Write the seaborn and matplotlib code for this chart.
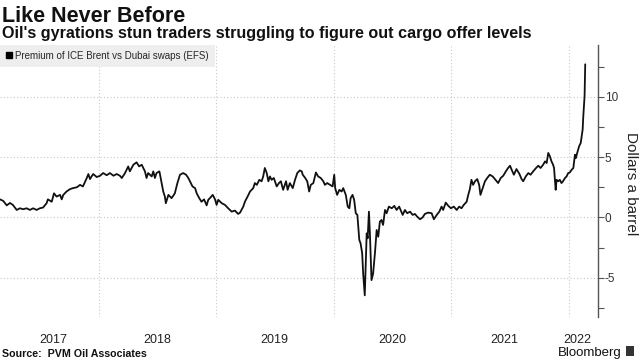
import matplotlib
matplotlib.use("Agg")
import matplotlib.pyplot as plt
import matplotlib.dates as mdates
from matplotlib.lines import Line2D
from matplotlib.patches import Rectangle
from matplotlib.ticker import FixedLocator, FixedFormatter, NullFormatter
import pandas as pd
import seaborn as sns

dates = [
    "2017-02-27", "2017-03-09", "2017-03-20", "2017-03-30", "2017-04-08", "2017-04-20", "2017-04-30",
    "2017-05-10", "2017-05-21", "2017-05-31", "2017-06-10", "2017-06-21", "2017-07-01", "2017-07-11",
    "2017-07-22", "2017-07-26", "2017-08-07", "2017-08-14", "2017-08-22", "2017-09-02", "2017-09-07",
    "2017-09-12", "2017-09-22", "2017-10-03", "2017-10-12", "2017-10-24", "2017-11-03", "2017-11-12",
    "2017-11-24", "2017-11-29", "2017-12-04", "2017-12-09", "2017-12-14", "2017-12-25",
    "2018-01-04", "2018-01-14", "2018-01-25", "2018-02-04", "2018-02-15", "2018-02-25", "2018-03-07",
    "2018-03-13", "2018-03-23", "2018-04-02", "2018-04-07", "2018-04-18", "2018-04-28", "2018-05-06",
    "2018-05-14", "2018-05-19", "2018-05-24", "2018-05-29", "2018-06-03", "2018-06-14", "2018-06-19",
    "2018-06-24", "2018-06-29", "2018-07-08", "2018-07-15", "2018-07-20", "2018-07-25", "2018-07-28",
    "2018-08-05", "2018-08-15", "2018-08-25", "2018-09-02", "2018-09-10", "2018-09-20", "2018-09-29",
    "2018-10-06", "2018-10-11", "2018-10-19", "2018-10-27", "2018-11-01", "2018-11-09", "2018-11-16",
    "2018-11-24", "2018-12-02", "2018-12-07", "2018-12-12", "2018-12-21", "2018-12-28",
    "2019-01-02", "2019-01-07", "2019-01-18", "2019-01-28", "2019-02-07", "2019-02-18", "2019-02-28",
    "2019-03-10", "2019-03-16", "2019-03-26", "2019-03-31", "2019-04-11", "2019-04-16", "2019-04-26",
    "2019-05-01", "2019-05-07", "2019-05-15", "2019-05-22", "2019-05-27", "2019-06-01", "2019-06-07",
    "2019-06-12", "2019-06-17", "2019-06-22", "2019-06-29", "2019-07-08", "2019-07-15", "2019-07-21",
    "2019-07-28", "2019-08-06", "2019-08-11", "2019-08-18", "2019-08-27", "2019-09-03", "2019-09-10",
    "2019-09-18", "2019-09-24", "2019-09-27", "2019-10-04", "2019-10-11", "2019-10-17", "2019-10-22",
    "2019-10-30", "2019-11-07", "2019-11-14", "2019-11-22", "2019-11-30", "2019-12-05", "2019-12-12",
    "2019-12-21", "2019-12-29",
    "2020-01-03", "2020-01-06", "2020-01-12", "2020-01-19", "2020-01-26", "2020-01-31", "2020-02-08",
    "2020-02-14", "2020-02-19", "2020-02-23", "2020-02-29", "2020-03-05", "2020-03-10", "2020-03-15",
    "2020-03-21", "2020-03-25", "2020-03-30", "2020-04-02", "2020-04-07", "2020-04-13", "2020-04-16",
    "2020-04-20", "2020-04-23", "2020-04-28", "2020-05-03", "2020-05-09", "2020-05-14", "2020-05-19",
    "2020-05-24", "2020-05-29", "2020-06-03", "2020-06-09", "2020-06-14", "2020-06-21", "2020-06-30",
    "2020-07-08", "2020-07-15", "2020-07-23", "2020-08-03", "2020-08-10", "2020-08-17", "2020-08-26",
    "2020-09-03", "2020-09-10", "2020-09-17", "2020-09-26", "2020-10-04", "2020-10-11", "2020-10-21",
    "2020-11-01", "2020-11-08", "2020-11-17", "2020-11-25", "2020-12-02", "2020-12-07", "2020-12-15",
    "2020-12-23", "2020-12-31",
    "2021-01-09", "2021-01-18", "2021-01-26", "2021-02-02", "2021-02-09", "2021-02-18", "2021-02-23",
    "2021-02-28", "2021-03-05", "2021-03-10", "2021-03-16", "2021-03-23", "2021-03-29", "2021-04-02",
    "2021-04-09", "2021-04-16", "2021-04-23", "2021-05-01", "2021-05-10", "2021-05-17", "2021-05-27",
    "2021-06-04", "2021-06-12", "2021-06-20", "2021-06-27", "2021-07-03", "2021-07-08", "2021-07-15",
    "2021-07-23", "2021-08-01", "2021-08-08", "2021-08-13", "2021-08-21", "2021-08-29", "2021-09-05",
    "2021-09-13", "2021-09-22", "2021-09-29", "2021-10-06", "2021-10-14", "2021-10-20", "2021-10-25",
    "2021-10-30", "2021-11-04", "2021-11-09", "2021-11-14", "2021-11-17", "2021-11-22", "2021-11-25",
    "2021-11-30", "2021-12-05", "2021-12-10", "2021-12-15", "2021-12-21", "2021-12-26", "2021-12-31",
    "2022-01-05", "2022-01-11", "2022-01-16", "2022-01-21", "2022-01-24", "2022-01-28", "2022-02-03",
    "2022-02-08", "2022-02-11", "2022-02-14", "2022-02-16", "2022-02-18", "2022-02-20", "2022-02-21",
    "2022-02-22",
]

efs_premium = [
    1.5, 1.37, 1.0, 1.2, 1.04, 0.62, 0.76,
    0.68, 0.76, 0.62, 0.76, 0.62, 0.76, 0.82,
    1.18, 1.5, 1.3, 2.0, 1.73, 1.87, 1.5,
    1.87, 2.15, 2.35, 2.43, 2.5, 2.7, 2.57,
    3.27, 3.6, 3.18, 3.4, 3.6, 3.35,
    3.45, 3.68, 3.5, 3.68, 3.46, 3.6, 3.46,
    3.27, 3.68, 4.23, 3.82, 4.37, 4.57, 4.23,
    4.37, 4.1, 3.82, 3.27, 3.68, 3.4, 3.82,
    3.27, 3.68, 3.82, 2.85, 2.15, 1.73, 1.18,
    1.87, 1.6, 2.0, 2.85, 3.54, 3.68, 3.54,
    3.27, 3.0, 2.57, 2.43, 2.0, 1.6, 1.3,
    1.5, 1.0, 1.46, 1.6, 1.87, 1.5,
    1.04, 1.46, 1.18, 1.04, 0.76, 0.48, 0.57,
    0.29, 0.4, 0.9, 1.3, 1.87, 2.15, 2.43,
    2.85, 2.7, 3.12, 3.0, 3.4, 4.1, 3.68,
    3.0, 3.4, 3.12, 3.27, 2.57, 2.85, 3.0,
    2.29, 3.0, 2.29, 2.85, 2.43, 3.12, 3.68,
    3.9, 3.82, 3.54, 3.3, 3.0, 2.15, 2.7,
    2.85, 3.73, 3.4, 3.27, 3.0, 2.7, 2.85,
    2.7, 2.57,
    3.54, 2.43, 1.87, 2.29, 2.15, 2.43, 1.87,
    0.9, 0.76, 1.6, 1.87, 1.46, 0.35, 0.21,
    -1.87, -2.15, -2.98, -4.65, -6.46, -1.32, -1.73,
    0.48, -1.32, -5.2, -4.65, -2.85, -1.04, -1.6,
    -0.35, -0.21, -0.62, 0.62, 0.35, 0.9, 0.76,
    0.96, 0.62, 0.9, 0.21, 0.62, 0.35, 0.48,
    0.21, 0.29, 0.07, -0.15, 0.0, 0.29, 0.4,
    0.35, -0.15, 0.21, 0.48, 0.9, 0.62, 1.23,
    0.96, 0.76,
    0.9, 0.62, 0.9, 0.76, 1.04, 1.3, 1.87,
    2.35, 3.12, 2.7, 3.0, 3.18, 2.7, 1.87,
    2.43, 3.0, 3.27, 3.54, 3.4, 3.18, 2.85,
    3.27, 3.46, 3.82, 4.1, 4.29, 3.96, 3.54,
    4.01, 3.62, 3.18, 3.0, 3.4, 3.68, 3.54,
    3.82, 4.1, 4.29, 4.1, 4.37, 4.65, 4.51,
    5.35, 5.07, 4.65, 4.37, 4.1, 2.29, 3.12,
    3.0, 3.12, 2.85, 3.0, 3.27, 3.4, 3.68,
    3.73, 3.96, 4.1, 5.2, 4.93, 5.35, 5.9,
    6.18, 6.73, 7.29, 8.4, 9.23, 10.07, 11.46,
    12.7,
]

year_labels = ["2017", "2018", "2019", "2020", "2021", "2022"]
year_label_dates = ["2017-08-11", "2018-07-01", "2019-07-01", "2020-07-01", "2021-06-15", "2022-01-27"]
y_major = [-5, 0, 5, 10]
y_minor = [-7.5, -2.5, 2.5, 7.5, 12.5]
series_name = "Premium of ICE Brent vs Dubai swaps (EFS)"

sns.set_theme(style="white")
plt.rcParams["font.family"] = ["Liberation Sans", "DejaVu Sans"]

df = pd.DataFrame({"date": pd.to_datetime(dates), "value": efs_premium})

fig = plt.figure(figsize=(6.4, 3.6), dpi=100)
ax = fig.add_axes([0.0, 0.119, 0.934, 0.756])

sns.lineplot(data=df, x="date", y="value", ax=ax, color="#111111", linewidth=1.3, legend=False)

ax.set_xlim(pd.Timestamp("2017-02-27"), pd.Timestamp("2022-04-02"))
ax.set_ylim(-8.27, 14.3)

for s in ["left", "top", "bottom"]:
    ax.spines[s].set_visible(False)
ax.spines["right"].set_visible(True)
ax.spines["right"].set_color("#555555")
ax.spines["right"].set_linewidth(1.0)

ax.yaxis.tick_right()
ax.set_yticks(y_major)
ax.set_yticks(y_minor, minor=True)
ax.set_yticklabels([str(v) for v in y_major])
ax.tick_params(axis="y", which="both", direction="out", length=4, width=0.8,
               color="#555555", labelsize=8.5, labelcolor="#333333", pad=1,
               right=True, left=False)

ax.xaxis.set_major_locator(mdates.YearLocator())
ax.xaxis.set_major_formatter(NullFormatter())
ax.xaxis.set_minor_locator(FixedLocator(mdates.date2num(pd.to_datetime(year_label_dates))))
ax.xaxis.set_minor_formatter(FixedFormatter(year_labels))
ax.tick_params(axis="x", which="both", length=0, labelsize=9, labelcolor="#222222", pad=12)

ax.grid(True, which="major", axis="both", linestyle=(0, (1, 2)), color="#c8c8c8", linewidth=0.8)
ax.set_axisbelow(True)
ax.set_xlabel("")
ax.set_ylabel("")

handle = Line2D([], [], marker="s", color="black", linestyle="none", markersize=5)
leg = ax.legend([handle], [series_name], loc="upper left", bbox_to_anchor=(0, 1),
                borderaxespad=0, frameon=True, fancybox=False, facecolor="#eeeeee",
                edgecolor="none", framealpha=1, handlelength=0.6, handletextpad=0.35,
                borderpad=0.6, prop={"family": ["Liberation Sans", "DejaVu Sans"], "size": 7})

fig.text(0.986, 0.49, "Dollars a barrel", rotation=270, ha="center", va="center",
         fontsize=11, color="#222222")

fig.text(0.003, 0.939, "Like Never Before", fontsize=15.5, fontweight="bold", color="#111111",
         va="baseline", ha="left")
fig.text(0.003, 0.894, "Oil's gyrations stun traders struggling to figure out cargo offer levels",
         fontsize=11.6, fontweight="bold", color="#111111", va="baseline", ha="left")
fig.text(0.003, 0.008, "Source:  PVM Oil Associates", fontsize=7.7, fontweight="bold",
         color="#111111", va="baseline", ha="left")
fig.text(0.972, 0.01, "Bloomberg", fontsize=9.5, color="#111111", va="baseline", ha="right")
fig.patches.append(Rectangle((0.978, 0.011), 0.013, 0.028, transform=fig.transFigure,
                             facecolor="#333333", edgecolor="none"))

fig.savefig("out.png", dpi=100)
